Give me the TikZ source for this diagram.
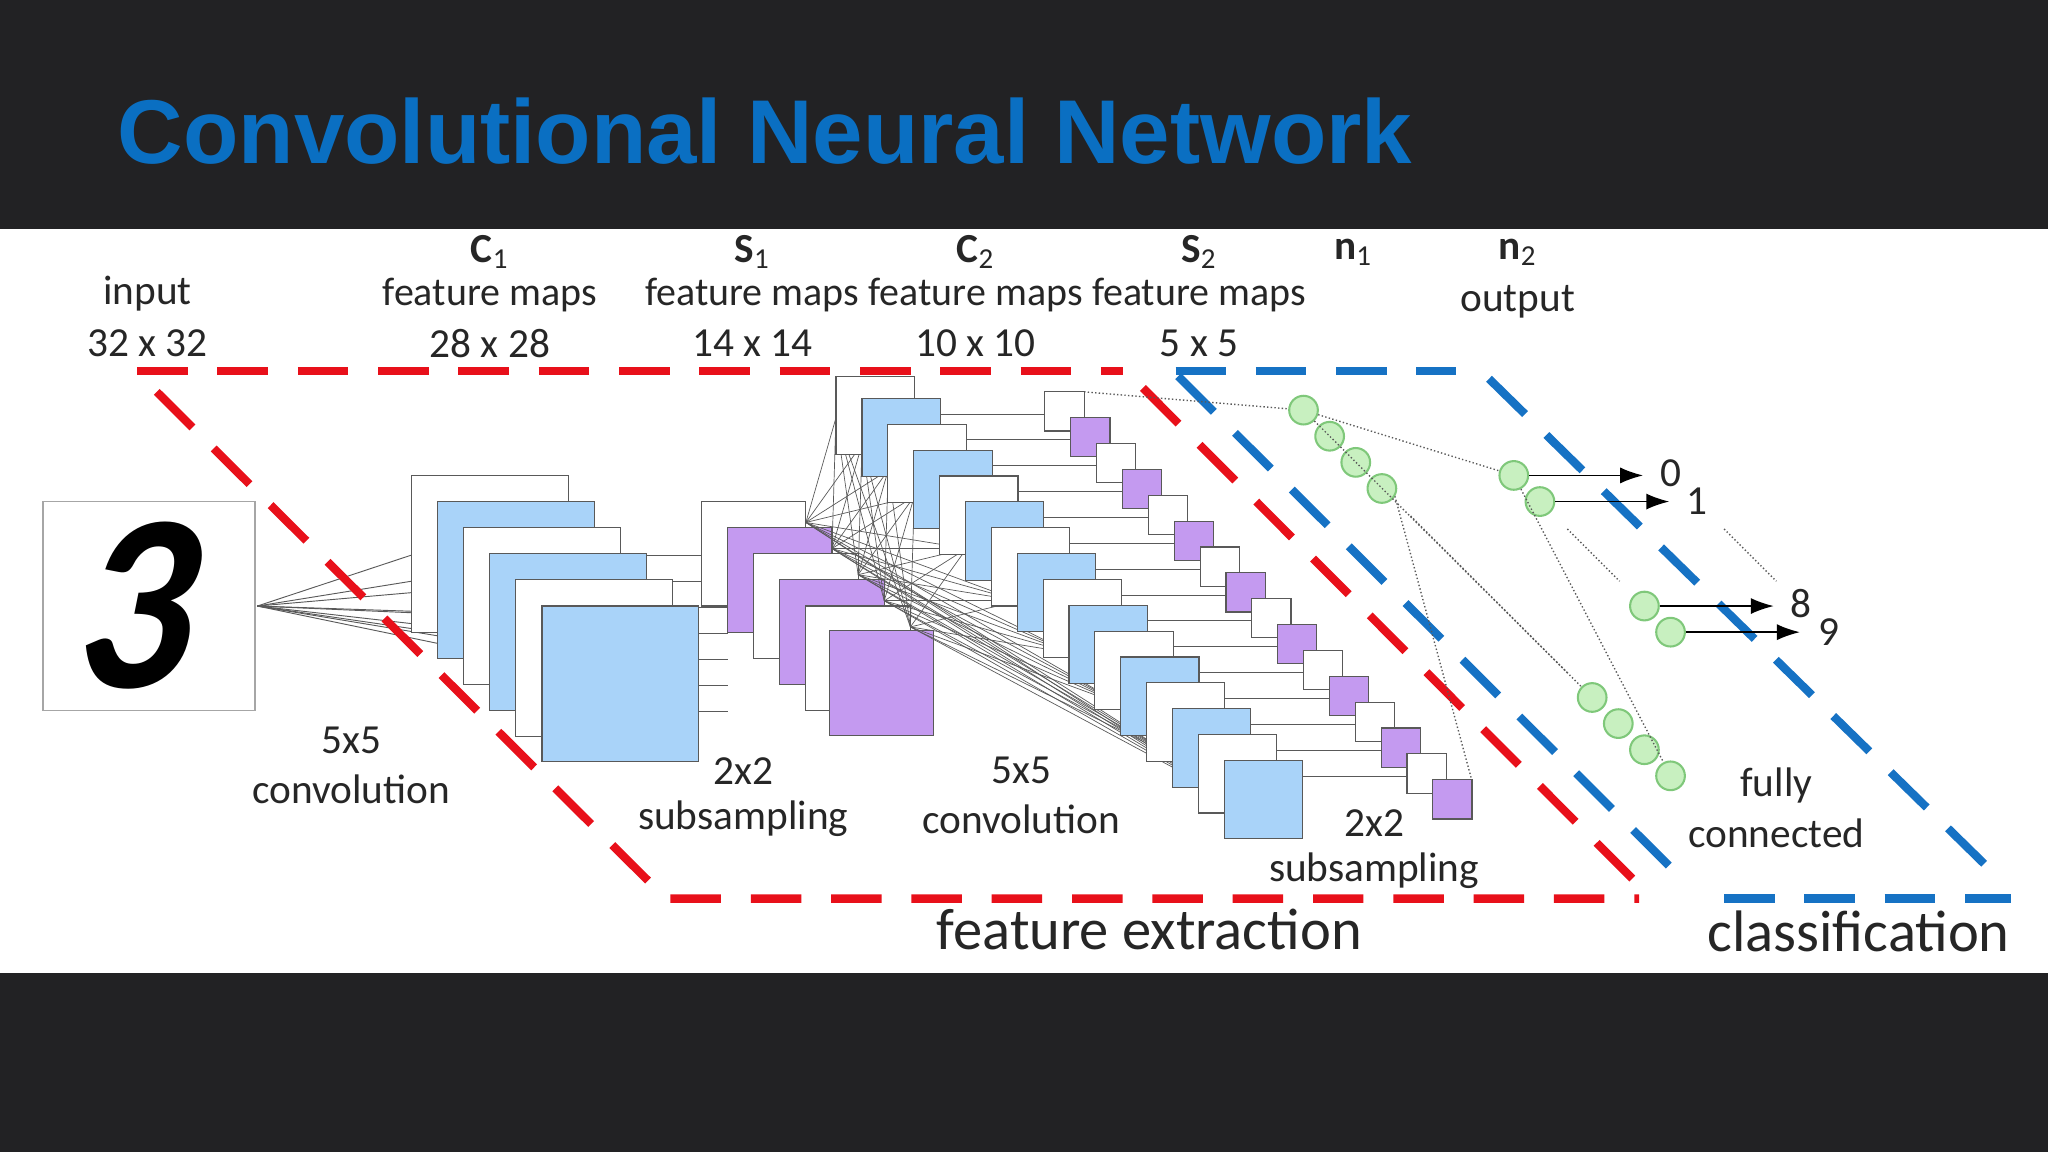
\documentclass[tikz,border=0pt]{standalone}
\usepackage{fontspec}
\setmainfont{Carlito}
\newfontfamily\titlefont{Liberation Sans}
\usetikzlibrary{arrows.meta}
\definecolor{bg}{HTML}{222224}
\definecolor{ttl}{HTML}{0A6FC2}
\definecolor{cblue}{HTML}{A9D3F9}
\definecolor{cpurp}{HTML}{C49AF0}
\definecolor{cgreen}{HTML}{C8F0C0}
\definecolor{gcirc}{HTML}{7FC87A}
\definecolor{rdash}{HTML}{E8101A}
\definecolor{bdash}{HTML}{1672C4}
\tikzset{
 bmap/.style={draw=gray!70!black,fill=cblue,line width=0.5pt},
 wmap/.style={draw=gray!70!black,fill=white,line width=0.5pt},
 pmap/.style={draw=gray!70!black,fill=cpurp,line width=0.5pt},
 cn/.style={gray!70!black,line width=0.4pt},
 dt/.style={gray!70!black,densely dotted,line width=0.6pt},
 lbl/.style={font=\fontsize{18}{20}\selectfont,text=black!85,inner sep=1pt},
 fm/.style={font=\fontsize{17.4}{20}\selectfont,text=black!85,inner sep=0pt},
 big/.style={font=\fontsize{25.5}{28}\selectfont,text=black!85},
 neu/.style={circle,draw=gcirc,fill=cgreen,line width=0.9pt,minimum size=12.5pt,inner sep=0},
 rd/.style={rdash,line width=3.6pt,dash pattern=on 22pt off 13pt},
 bd/.style={bdash,line width=3.6pt,dash pattern=on 22pt off 13pt},
}
\begin{document}
\begin{tikzpicture}[x=0.02cm,y=-0.02cm]
\fill[bg] (0,0) rectangle (1568,882);
\fill[white] (0,175) rectangle (1568,745);
\node[anchor=west,text=ttl,font=\titlefont\bfseries\fontsize{39.5}{44}\selectfont] (title) at (84,100) {Convolutional Neural Network};
% input
\node[draw=gray!70,line width=0.8pt,minimum width=162*0.02cm,minimum height=160*0.02cm,inner sep=0] (in) at (114,464) {};
\node[font=\fontsize{100}{100}\selectfont\bfseries,xslant=0.2,yscale=1.1] (three) at (110,464) {3};
% fan lines
\foreach \p in {(315,425),(315,445),(335,452),(335,470),(355,482),(375,490),(395,505),(415,500),(375,470)}
  \draw[cn] (197,464) -- \p;
% C1 -> S1 connectors
\foreach \y in {425,445,465,485,505,525,545}
  \draw[cn] (495,\y) -- (557,\y);
% C1
\draw[wmap] (315,364) rectangle (435,484);
\draw[bmap] (335,384) rectangle (455,504);
\draw[wmap] (355,404) rectangle (475,524);
\draw[bmap] (375,424) rectangle (495,544);
\draw[wmap] (395,444) rectangle (515,564);
\draw[bmap] (415,464) rectangle (535,583);
% S1
\draw[wmap] (537,384) rectangle (617,464);
\draw[pmap] (557,404) rectangle (637,484);
\draw[wmap] (577,424) rectangle (657,504);
\draw[pmap] (597,444) rectangle (677,524);
\draw[wmap] (617,464) rectangle (697,544);
\draw[pmap] (635,483) rectangle (715,563);
% S1 -> C2 lines
\foreach \a in {(617,400),(637,420),(657,440),(677,460),(697,480)}
 \foreach \b in {(640,320),(660,340),(680,360),(700,380),(740,420),(780,460),(820,500),(860,540),(900,580),(940,610)}
  \draw[cn,line width=0.3pt] \a -- \b;
% C2
\draw[wmap] (640,288) rectangle (700,348);
\foreach \i in {0,...,14}{
  \pgfmathsetmacro{\xx}{660+19.8*\i}
  \pgfmathsetmacro{\yy}{305+19.8*\i}
  \pgfmathparse{mod(\i,2)==0?1:0}
  \ifnum\pgfmathresult=1
    \draw[bmap] (\xx,\yy) rectangle ++(60,60);
  \else
    \draw[wmap] (\xx,\yy) rectangle ++(60,60);
  \fi
  \draw[cn] (\xx+60,\yy+12) -- (\xx+140,\yy+12);
}
% S2
\foreach \i in {0,...,15}{
  \pgfmathsetmacro{\xx}{800+19.8*\i}
  \pgfmathsetmacro{\yy}{300+19.8*\i}
  \pgfmathparse{mod(\i,2)==0?1:0}
  \ifnum\pgfmathresult=1
    \draw[wmap] (\xx,\yy) rectangle ++(30,30);
  \else
    \draw[pmap] (\xx,\yy) rectangle ++(30,30);
  \fi
}
% red dashed region
\draw[rd] (105,284) -- (860,284);
\draw[rd] (120,300) -- (510,688) -- (1255,688);
\draw[rd] (875,297) -- (1265,688);
% blue dashed region
\draw[bd] (900,284) -- (1115,284);
\draw[bd] (902,288) -- (1290,675);
\draw[bd] (1140,290) -- (1530,672);
\draw[bd] (1320,688) -- (1540,688);
% neurons n1
\node[neu] (a1) at (998,314) {};
\node[neu] (a2) at (1018,334) {};
\node[neu] (a3) at (1038,354) {};
\node[neu] (a4) at (1058,374) {};
\node[neu] (a5) at (1219,534) {};
\node[neu] (a6) at (1239,554) {};
\node[neu] (a7) at (1259,574) {};
\node[neu] (a8) at (1279,594) {};
% n2
\node[neu] (b1) at (1159,364) {};
\node[neu] (b2) at (1179,384) {};
\node[neu] (b3) at (1259,464) {};
\node[neu] (b4) at (1279,484) {};
\draw[dt] (a1) -- (b1);
\draw[dt] (a1) -- (a5);
\draw[dt] (b1) -- (a8);
\draw[dt] (830,300) -- (a1);
\draw[dt] (1080,395) -- (1200,515);
\draw[dt] (1200,405) -- (1240,445);
\draw[dt] (1320,405) -- (1360,445);
\draw[dt] (1127,598) -- (1068,380);
% outputs
\coordinate (o0) at (1258,364); \coordinate (o1) at (1278,384);
\coordinate (o8) at (1358,464); \coordinate (o9) at (1378,484);
\draw[-{Latex[length=10pt,width=7pt]},line width=0.7pt] (b1) -- (o0);
\draw[-{Latex[length=10pt,width=7pt]},line width=0.7pt] (b2) -- (o1);
\draw[-{Latex[length=10pt,width=7pt]},line width=0.7pt] (b3) -- (o8);
\draw[-{Latex[length=10pt,width=7pt]},line width=0.7pt] (b4) -- (o9);
\node[lbl] (l0) at (1279,362) {0};
\node[lbl] (l1) at (1299,384) {1};
\node[lbl] (l8) at (1379,462) {8};
\node[lbl] (l9) at (1400,484) {9};
% labels
\node[lbl] at (113,225) {input};
\node[lbl] at (113,263) {32 x 32};
\node[lbl] at (375,193) {\textbf{C}\textsubscript{1}};
\node[fm] at (375,226) {feature maps};
\node[lbl] at (375,263) {28 x 28};
\node[lbl] at (576,193) {\textbf{S}\textsubscript{1}};
\node[fm] at (576,226) {feature maps};
\node[lbl] at (576,263) {14 x 14};
\node[lbl] at (747,193) {\textbf{C}\textsubscript{2}};
\node[fm] at (747,226) {feature maps};
\node[lbl] at (747,263) {10 x 10};
\node[lbl] at (918,193) {\textbf{S}\textsubscript{2}};
\node[fm] at (918,226) {feature maps};
\node[lbl] at (918,263) {5 x 5};
\node[lbl] at (1036,193) {\textbf{n}\textsubscript{1}};
\node[lbl] at (1162,193) {\textbf{n}\textsubscript{2}};
\node[lbl] at (1162,231) {output};
\node[lbl] at (269,567) {5x5};
\node[lbl] at (269,604) {convolution};
\node[lbl] at (569,590) {2x2};
\node[lbl] at (569,627) {subsampling};
\node[lbl] at (782,590) {5x5};
\node[lbl] at (782,627) {convolution};
\node[lbl] at (1052,630) {2x2};
\node[lbl] at (1052,667) {subsampling};
\node[lbl] at (1360,601) {fully};
\node[lbl] at (1360,638) {connected};
\node[big] at (880,712) {feature extraction};
\node[big] at (1423,713) {classification};
\end{tikzpicture}
\end{document}
